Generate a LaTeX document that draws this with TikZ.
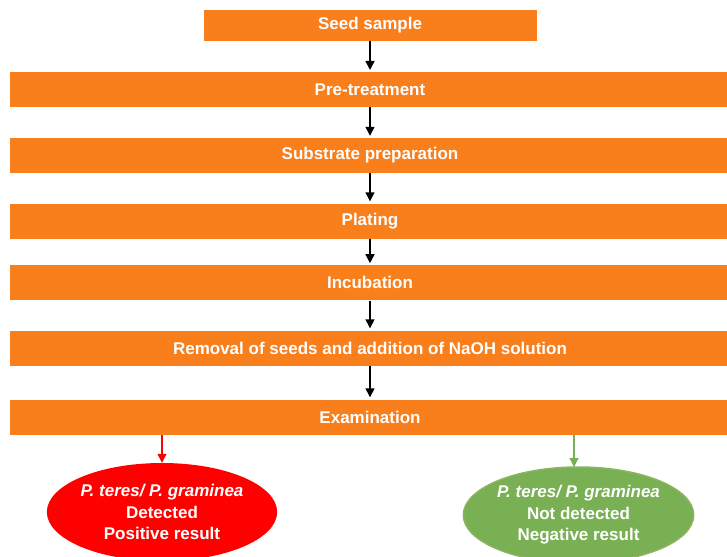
\documentclass[tikz,border=0pt]{standalone}
\usepackage{fontspec}
\setmainfont{Liberation Sans}
\usetikzlibrary{shapes.geometric, arrows.meta, positioning}

\definecolor{boxorange}{RGB}{249,126,28}
\definecolor{posred}{RGB}{255,0,0}
\definecolor{neggreen}{RGB}{122,176,84}
\definecolor{negedge}{RGB}{140,180,95}

\tikzset{
    stepbox/.style={fill=boxorange, text=white, font=\fontsize{17}{20}\selectfont\bfseries,
        minimum height=35pt, inner sep=0pt},
    result/.style={ellipse, text=white, align=center, inner sep=0pt,
        font=\fontsize{17}{21.5}\selectfont\bfseries},
    flow/.style={line width=1.4pt, -{Triangle[width=9pt,length=9pt]}}
}

\begin{document}
\begin{tikzpicture}[x=1pt, y=-1pt]
        \useasboundingbox (0, 0) rectangle (727, 556);

        \node[stepbox, minimum width=333pt, minimum height=31pt] (seed) at (370, 25.5) {Seed sample};
        \node[stepbox, minimum width=720pt] (pretreat) at (370, 89.7) {Pre-treatment};
        \node[stepbox, minimum width=720pt] (substrate) at (370, 155.5) {Substrate preparation};
        \node[stepbox, minimum width=720pt] (plating) at (370, 221) {Plating};
        \node[stepbox, minimum width=720pt] (incub) at (370, 282.9) {Incubation};
        \node[stepbox, minimum width=720pt] (removal) at (370, 348) {Removal of seeds and addition of NaOH solution};
        \node[stepbox, minimum width=720pt] (exam) at (370, 417) {Examination};

        \foreach \a/\b in {seed/pretreat, pretreat/substrate, substrate/plating,
                           plating/incub, incub/removal, removal/exam} {
            \draw[flow] (\a.south) -- ([yshift=2pt]\b.north);
        }

        \node[result, fill=posred, minimum width=227pt, minimum height=98pt] (pos) at (162, 512)
            {\textit{P. teres/ P. graminea}\\Detected\\Positive result};
        \node[result, fill=neggreen, draw=negedge, line width=1.5pt,
            minimum width=230pt, minimum height=96pt] (neg) at (578.5, 515)
            {\textit{P. teres/ P. graminea}\\Not detected\\Negative result};
        \coordinate (negin) at (574, 467);

        \draw[flow, posred, line width=1.2pt] (exam.south -| pos.north) -- (pos.north);
        \draw[flow, neggreen, line width=1.2pt] (exam.south -| negin) -- (negin);
    \end{tikzpicture}
\end{document}
